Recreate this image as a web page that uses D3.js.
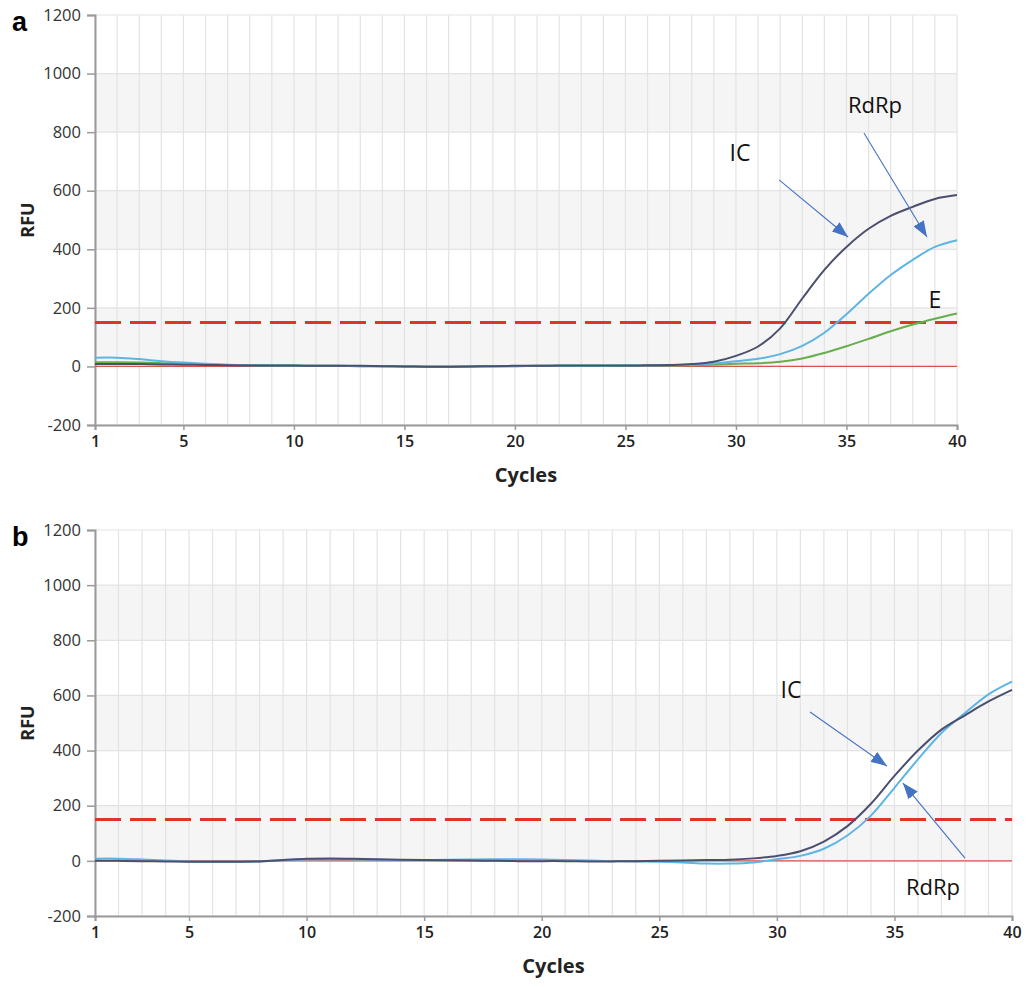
<!DOCTYPE html>
<html>
<head>
<meta charset="utf-8">
<script src="https://cdn.jsdelivr.net/npm/d3@7"></script>
<style>
  body { margin: 0; background: #fff; }
  text { font-family: 'Open Sans', 'Noto Sans', sans-serif; }
</style>
</head>
<body>
<div id="chart"></div>
<script>
// cycles on the x axis
const cycles = [1,2,3,4,5,6,7,8,9,10,11,12,13,14,15,16,17,18,19,20,
  21,22,23,24,25,26,27,28,29,30,31,32,33,34,35,36,37,38,39,40];

const xTicks = [1, 5, 10, 15, 20, 25, 30, 35, 40];
const yTicks = [-200, 0, 200, 400, 600, 800, 1000, 1200];
const threshold = 150;

// panel a
const icA = [8,8,8,7,6,5,4,3,3,3, 2,2,2,1,0,-1,-1,0,1,2,
  2,3,3,3,3,4,5,8,16,36, 68,130,232,330,408,470,514,545,572,585];
const rdrpA = [30,30,25,18,13,9,6,4,3,2, 2,2,1,1,0,-1,-1,0,1,1,
  2,2,2,2,3,3,4,6,10,18, 26,42,70,115,178,248,312,364,408,431];
const eA = [14,14,13,11,9,7,5,4,3,3, 2,2,1,1,0,-1,-1,0,1,1,
  2,2,2,2,2,3,3,4,6,9, 11,16,27,46,69,94,120,143,163,181];

// panel b
const icB = [0,0,-1,-2,-3,-3,-3,-2,3,8, 9,8,6,4,3,2,1,0,-1,-1,
  -1,-2,-2,-1,0,1,3,4,9,18, 35,70,126,207,308,400,476,528,578,620];
const rdrpB = [8,8,5,1,-2,-3,-3,-2,2,5, 6,5,4,3,3,4,5,6,6,5,
  3,1,-1,-2,-3,-6,-10,-10,-6,6, 18,44,92,164,265,368,464,536,604,650];

const colors = { IC: '#4b4f6e', RdRp: '#5db5e4', E: '#67ae4c' };

const width = 1035, height = 987;

const svg = d3.select('#chart').append('svg')
  .attr('width', width)
  .attr('height', height);

const defs = svg.append('defs');
defs.append('marker')
  .attr('id', 'arrow')
  .attr('viewBox', '0 0 16 12')
  .attr('refX', 16).attr('refY', 6)
  .attr('markerWidth', 16).attr('markerHeight', 12)
  .attr('markerUnits', 'userSpaceOnUse')
  .attr('orient', 'auto')
  .append('path')
  .attr('d', 'M0,0 L16,6 L0,12 Z')
  .attr('fill', '#4472c4');

const drawPanel = (p) => {
  const x = d3.scaleLinear().domain([1, 40]).range([p.left, p.right]);
  const y = d3.scaleLinear().domain([-200, 1200]).range([p.bottom, p.top]);
  const g = svg.append('g');

  // grey bands
  [[0, 200], [400, 600], [800, 1000]].forEach(([a, b]) => {
    g.append('rect')
      .attr('x', p.left).attr('y', y(b))
      .attr('width', p.right - p.left).attr('height', y(a) - y(b))
      .attr('fill', '#f5f5f5');
  });

  // grid
  g.selectAll('.vg').data(cycles).join('line')
    .attr('x1', d => x(d)).attr('x2', d => x(d))
    .attr('y1', p.top).attr('y2', p.bottom)
    .attr('stroke', '#e3e3e3').attr('stroke-width', 1.2);
  g.selectAll('.hg').data(yTicks).join('line')
    .attr('x1', p.left).attr('x2', p.right)
    .attr('y1', d => y(d)).attr('y2', d => y(d))
    .attr('stroke', '#e3e3e3').attr('stroke-width', 1.2);

  // axes
  const yAxis = g.append('g')
    .attr('transform', `translate(${p.left},0)`)
    .call(d3.axisLeft(y).tickValues(yTicks).tickFormat(d => String(d))
      .tickSize(8).tickPadding(6));
  yAxis.selectAll('text')
    .attr('font-size', 16.5).attr('fill', '#333')
    .style('font-family', "'Open Sans', sans-serif");
  const xAxis = g.append('g')
    .attr('transform', `translate(0,${p.bottom})`)
    .call(d3.axisBottom(x).tickValues(xTicks).tickSize(5).tickPadding(6));
  xAxis.selectAll('text')
    .attr('font-size', 16).attr('font-weight', 600).attr('fill', '#222')
    .style('font-family', "'Open Sans', sans-serif");
  [yAxis, xAxis].forEach(a => {
    a.select('.domain').attr('stroke', '#9a9a9a').attr('stroke-width', 2);
    a.selectAll('.tick line').attr('stroke', '#9a9a9a').attr('stroke-width', 1.5);
  });

  // axis titles
  g.append('text')
    .attr('transform', `translate(${p.left - 68},${(p.top + p.bottom) / 2}) rotate(-90)`)
    .attr('text-anchor', 'middle').attr('dominant-baseline', 'central')
    .attr('font-size', 18).attr('font-weight', 700).attr('fill', '#222')
    .text('RFU');
  g.append('text')
    .attr('x', (p.left + p.right) / 2).attr('y', p.bottom + 57)
    .attr('text-anchor', 'middle')
    .attr('font-size', 20).attr('font-weight', 700).attr('fill', '#222')
    .text('Cycles');

  // panel letter
  g.append('text')
    .attr('x', 12).attr('y', p.top + 16)
    .attr('font-size', 27).attr('font-weight', 700).attr('fill', '#000')
    .style('font-family', "Arial, 'Liberation Sans', sans-serif")
    .text(p.letter);

  // baseline and threshold
  g.append('line')
    .attr('x1', p.left).attr('x2', p.right)
    .attr('y1', y(0)).attr('y2', y(0))
    .attr('stroke', '#d9534f').attr('stroke-width', 1.2);
  g.append('line')
    .attr('x1', p.left).attr('x2', p.right)
    .attr('y1', y(threshold)).attr('y2', y(threshold))
    .attr('stroke', '#e0342a').attr('stroke-width', 3)
    .attr('stroke-dasharray', '26,9');

  // curves
  const line = d3.line()
    .x((d, i) => x(cycles[i]))
    .y(d => y(d))
    .curve(d3.curveCatmullRom.alpha(0.5));
  p.series.forEach(s => {
    g.append('path')
      .datum(s.values)
      .attr('d', line)
      .attr('fill', 'none')
      .attr('stroke', colors[s.name])
      .attr('stroke-width', 2);
  });

  // annotations
  p.notes.forEach(n => {
    g.append('text')
      .attr('x', x(n.tx)).attr('y', y(n.ty))
      .attr('text-anchor', 'middle')
      .attr('font-size', n.size || 22).attr('fill', '#111')
      .style('font-family', "'Open Sans', sans-serif")
      .text(n.label);
    if (n.from) {
      g.append('line')
        .attr('x1', x(n.from[0])).attr('y1', y(n.from[1]))
        .attr('x2', x(n.to[0])).attr('y2', y(n.to[1]))
        .attr('stroke', '#4472c4').attr('stroke-width', 1.1)
        .attr('marker-end', 'url(#arrow)');
    }
  });
};

drawPanel({
  letter: 'a', left: 95, right: 957, top: 15, bottom: 425,
  series: [
    { name: 'E', values: eA },
    { name: 'RdRp', values: rdrpA },
    { name: 'IC', values: icA },
  ],
  notes: [
    { label: 'IC', tx: 30.18, ty: 700, size: 23, from: [31.95, 637], to: [35.07, 442] },
    { label: 'RdRp', tx: 36.29, ty: 865, from: [35.79, 797], to: [38.64, 442] },
    { label: 'E', tx: 39.0, ty: 200, size: 23 },
  ],
});

drawPanel({
  letter: 'b', left: 95, right: 1012, top: 530, bottom: 916,
  series: [
    { name: 'RdRp', values: rdrpB },
    { name: 'IC', values: icB },
  ],
  notes: [
    { label: 'IC', tx: 30.6, ty: 591, size: 23, from: [31.41, 540], to: [34.68, 344] },
    { label: 'RdRp', tx: 36.64, ty: -124, from: [38.0, 10], to: [35.36, 282] },
  ],
});
</script>
</body>
</html>
